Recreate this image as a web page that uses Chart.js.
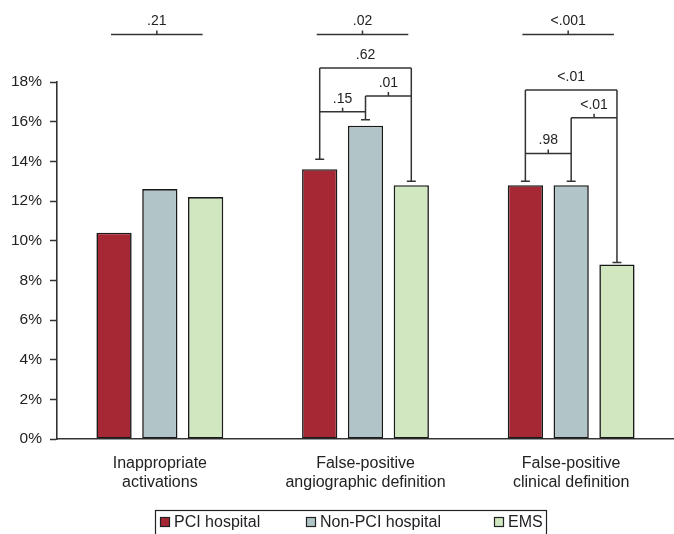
<!DOCTYPE html>
<html>
<head>
<meta charset="utf-8">
<script src="https://cdn.jsdelivr.net/npm/chart.js@4.4.0/dist/chart.umd.min.js"></script>
<style>
  html, body { margin: 0; padding: 0; background: #fff; }
</style>
</head>
<body>
<canvas id="chart" width="674" height="534"></canvas>
<script>
// data (percent)
const categories = [
    ['Inappropriate', 'activations'],
    ['False-positive', 'angiographic definition'],
    ['False-positive', 'clinical definition']
];
const seriesNames = ['PCI hospital', 'Non-PCI hospital', 'EMS'];
const pciValues = [10.4, 13.6, 12.8];
const nonPciValues = [12.6, 15.8, 12.8];
const emsValues = [12.2, 12.8, 8.8];
const yTicks = [0, 2, 4, 6, 8, 10, 12, 14, 16, 18];

// p-values: overall test per category
const overallP = ['.21', '.02', '<.001'];
const overallLevel = 20.4;

// pairwise comparisons: category, series a, series b, level (%), p-value, centre tick
const pairCat = [1, 1, 1, 2, 2, 2];
const pairFrom = [0, 0, 1, 0, 0, 1];
const pairTo = [2, 1, 2, 2, 1, 2];
const pairLevel = [18.7, 16.5, 17.3, 17.6, 14.4, 16.2];
const pairP = ['.62', '.15', '.01', '<.01', '.98', '<.01'];
const pairTick = [false, true, true, false, true, true];
// where each bracket leg stops above its bar (%)
const capLevels = [
    [null, null, null],
    [14.1, 16.1, 13.0],
    [13.0, 13.0, 8.9]
];

const colors = ['#a62834', '#b1c4c7', '#d0e7bf'];
const lineColor = '#333';
const fontFamily = '"Liberation Sans", Arial, sans-serif';

const bracketPlugin = {
    id: 'brackets',
    afterDraw(chart) {
        const ctx = chart.ctx;
        const y = chart.scales.y;
        const barX = (cat, s) => chart.getDatasetMeta(s).data[cat].x;

        ctx.save();
        ctx.strokeStyle = lineColor;
        ctx.lineWidth = 1.5;
        ctx.fillStyle = '#222';
        ctx.font = '14px ' + fontFamily;
        ctx.textAlign = 'center';
        ctx.textBaseline = 'middle';

        const hline = (x1, x2, py, tick, label) => {
            ctx.beginPath();
            ctx.moveTo(x1, py);
            ctx.lineTo(x2, py);
            if (tick) {
                ctx.moveTo((x1 + x2) / 2, py);
                ctx.lineTo((x1 + x2) / 2, py - 4);
            }
            ctx.stroke();
            ctx.fillText(label, (x1 + x2) / 2, py - 13);
        };

        // overall lines
        overallP.forEach((p, i) => {
            hline(barX(i, 0) - 3, barX(i, 2) - 3, y.getPixelForValue(overallLevel), true, p);
        });

        // pairwise brackets
        const legTop = {};
        pairCat.forEach((cat, k) => {
            const x1 = barX(cat, pairFrom[k]);
            const x2 = barX(cat, pairTo[k]);
            hline(x1, x2, y.getPixelForValue(pairLevel[k]), pairTick[k], pairP[k]);
            [pairFrom[k], pairTo[k]].forEach(s => {
                const key = cat + '-' + s;
                legTop[key] = Math.max(legTop[key] || 0, pairLevel[k]);
            });
        });

        // legs down to caps
        Object.keys(legTop).forEach(key => {
            const [cat, s] = key.split('-').map(Number);
            const x = barX(cat, s);
            const top = y.getPixelForValue(legTop[key]);
            const bottom = y.getPixelForValue(capLevels[cat][s]);
            ctx.beginPath();
            ctx.moveTo(x, top);
            ctx.lineTo(x, bottom);
            ctx.moveTo(x - 4.5, bottom);
            ctx.lineTo(x + 4.5, bottom);
            ctx.stroke();
        });

        // legend in a box
        ctx.lineWidth = 1.2;
        ctx.strokeStyle = '#222';
        ctx.strokeRect(155.5, 510.5, 391, 26);
        const itemX = [160, 306, 494];
        ctx.font = '16px ' + fontFamily;
        ctx.textAlign = 'left';
        seriesNames.forEach((name, i) => {
            ctx.fillStyle = colors[i];
            ctx.fillRect(itemX[i], 517, 10, 10);
            ctx.strokeStyle = '#222';
            ctx.lineWidth = 1.2;
            ctx.strokeRect(itemX[i] + 0.5, 517.5, 9, 9);
            ctx.fillStyle = '#222';
            ctx.fillText(name, itemX[i] + 14, 522.5);
        });
        ctx.restore();
    }
};

function makeDataset(label, values, i) {
    return {
        label: label,
        data: values,
        backgroundColor: colors[i],
        borderColor: '#1a1a1a',
        borderWidth: 1.6,
        borderSkipped: false,
        categoryPercentage: 0.668,
        barPercentage: 0.77
    };
}

new Chart(document.getElementById('chart'), {
    type: 'bar',
    data: {
        labels: categories,
        datasets: [
            makeDataset(seriesNames[0], pciValues, 0),
            makeDataset(seriesNames[1], nonPciValues, 1),
            makeDataset(seriesNames[2], emsValues, 2)
        ]
    },
    options: {
        responsive: false,
        animation: false,
        devicePixelRatio: 1,
        layout: { padding: { top: 82, right: -3, left: 0, bottom: 0 } },
        plugins: {
            legend: { display: false },
            tooltip: { enabled: false }
        },
        scales: {
            x: {
                grid: { display: true, drawOnChartArea: false, drawTicks: false },
                border: { display: true, color: lineColor, width: 1.6 },
                ticks: {
                    color: '#222',
                    padding: 15,
                    font: { family: fontFamily, size: 16, lineHeight: 1.18 }
                },
                afterFit(scale) { scale.height = 95; }
            },
            y: {
                min: 0,
                max: 18,
                afterBuildTicks(scale) { scale.ticks = yTicks.map(v => ({ value: v })); },
                grid: { drawOnChartArea: false, drawTicks: true, tickLength: 7, tickColor: lineColor, tickWidth: 1.5 },
                border: { display: true, color: lineColor, width: 1.6 },
                ticks: {
                    color: '#222',
                    padding: 8,
                    font: { family: fontFamily, size: 15.5 },
                    callback: v => v + '%'
                },
                afterFit(scale) { scale.width = 57; }
            }
        }
    },
    plugins: [bracketPlugin]
});
</script>
</body>
</html>
